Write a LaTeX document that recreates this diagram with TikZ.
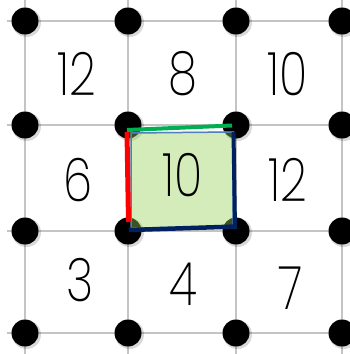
\documentclass[tikz,border=0pt]{standalone}
\usepackage{fontspec}
\setmainfont{Poppins ExtraLight}[FakeStretch=0.78]
\definecolor{gridgray}{RGB}{196,196,196}
\definecolor{fillgreen}{RGB}{146,208,80}
\definecolor{edgegreen}{RGB}{0,176,80}
\definecolor{edgeblue}{RGB}{0,32,96}
\definecolor{lightblue}{RGB}{79,129,189}
\tikzset{
  dot/.style={fill=black, circle, inner sep=0pt, minimum size=27pt},
  num/.style={font=\fontsize{60}{60}\selectfont, inner sep=0pt}
}
\begin{document}
\begin{tikzpicture}[x=1pt, y=-1pt]
    \useasboundingbox (0,0) rectangle (349,354);

    % Grid lines
    \foreach \x in {25,128,236,342} \draw[gridgray, line width=1.5pt] (\x,0) -- (\x,354);
    \foreach \y in {21,125,231,333} \draw[gridgray, line width=1.5pt] (7,\y) -- (349,\y);

    % Dots on the crossings
    \foreach \x [count=\i] in {25,128,236,342}
      \foreach \y [count=\j] in {21,125,231,333} {
        \fill[black, opacity=0.15] (\x+1.5,\y+1.5) circle (14.5);
        \node[dot] (d\i\j) at (\x,\y) {};
      }

    % Numbers in the cells
    \node[num] (n11) at (77,74)  {12};
    \node[num] (n21) at (183,74) {8};
    \node[num] (n31) at (288,74) {10};
    \node[num] (n12) at (78,180) {6};
    \node[num] (n32) at (288,180) {12};
    \node[num] (n13) at (80,280) {3};
    \node[num] (n23) at (183,284) {4};
    \node[num] (n33) at (291,288) {7};

    % Shaded square
    \fill[fillgreen, opacity=0.4] (130,132) -- (234,131) -- (235,228) -- (131,229) -- cycle;
    \draw[lightblue, line width=1.5pt] (131,133) -- (233,132) -- (233,227) -- (131,228) -- cycle;
    \node[num] (n22) at (183,175) {10};

    % Edges of the square
    \draw[edgeblue, line width=4pt] (233.5,132) -- (235,228);
    \draw[edgeblue, line width=4.5pt] (129,230) -- (237,226.5);
    \draw[edgegreen, line width=4pt] (127,130) -- (232,125.5);
    \draw[red, line width=5pt] (127,132) -- (128.5,222);
\end{tikzpicture}
\end{document}
